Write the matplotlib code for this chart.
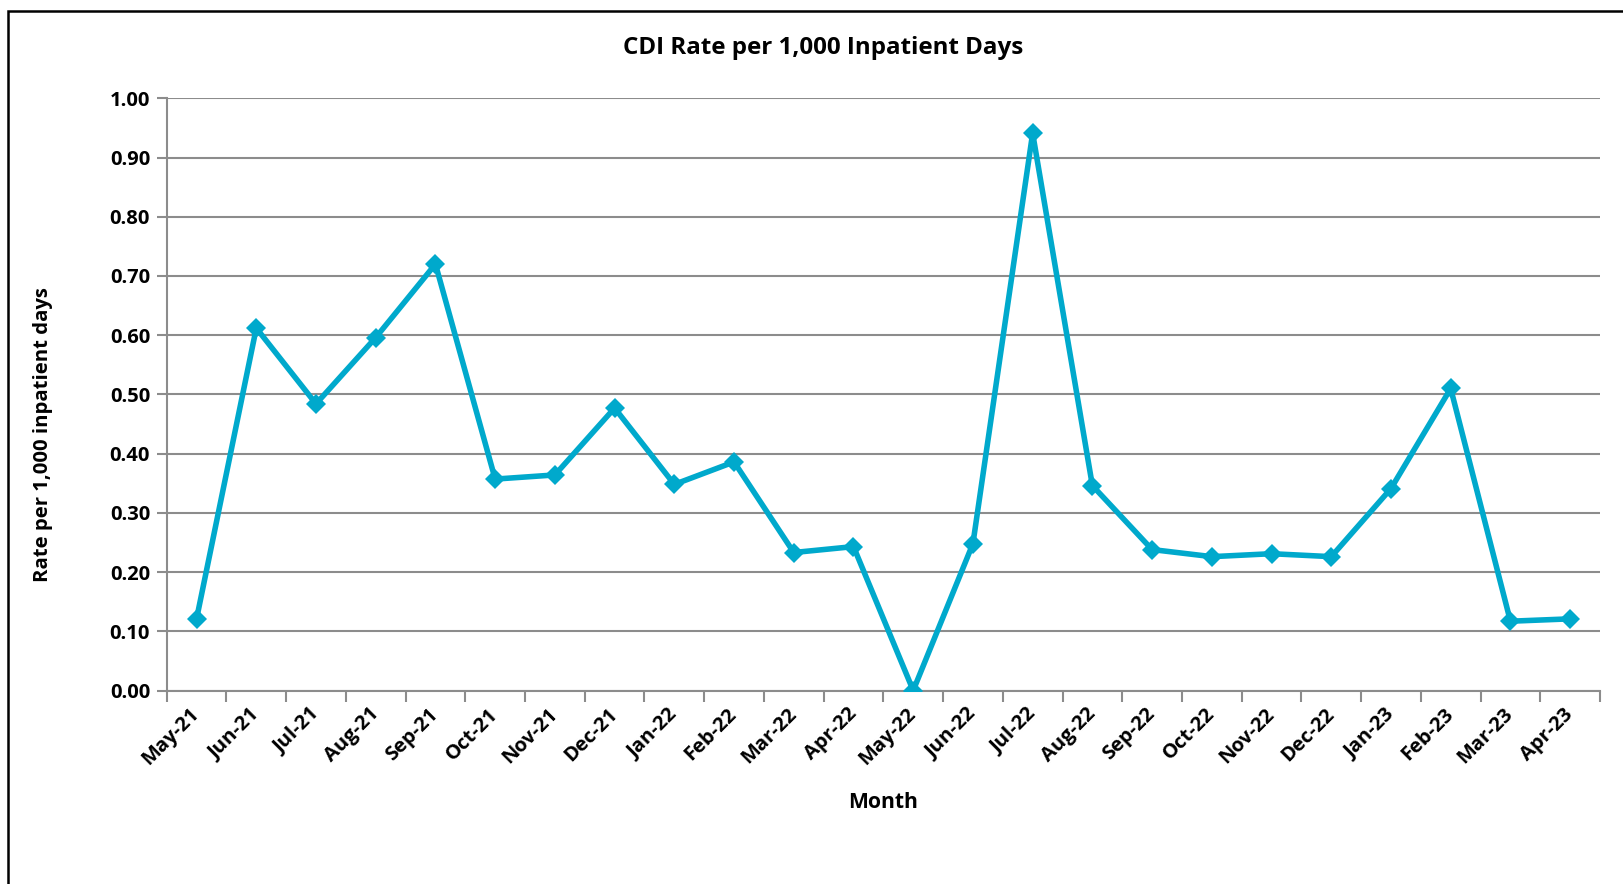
import matplotlib
matplotlib.use("Agg")
import matplotlib.pyplot as plt
from matplotlib.patches import Rectangle
from matplotlib.ticker import FixedLocator, MultipleLocator, FormatStrFormatter

months = ["May-21", "Jun-21", "Jul-21", "Aug-21", "Sep-21", "Oct-21", "Nov-21", "Dec-21",
          "Jan-22", "Feb-22", "Mar-22", "Apr-22", "May-22", "Jun-22", "Jul-22", "Aug-22",
          "Sep-22", "Oct-22", "Nov-22", "Dec-22", "Jan-23", "Feb-23", "Mar-23", "Apr-23"]
rates = [0.121, 0.612, 0.484, 0.596, 0.720, 0.357, 0.364, 0.477,
         0.348, 0.386, 0.233, 0.243, 0.000, 0.248, 0.941, 0.346,
         0.238, 0.226, 0.231, 0.226, 0.341, 0.510, 0.117, 0.121]

plt.rcParams['font.family'] = ['Open Sans', 'DejaVu Sans']
W, H = 1623, 884
fig = plt.figure(figsize=(W / 100, H / 100), dpi=100)
ax = fig.add_axes([166.7 / W, 1 - 690.5 / H, (1600 - 166.7) / W, (690.5 - 98.3) / H])

x = list(range(len(months)))
ax.plot(x, rates, color='#00A9CC', lw=4, marker='D', markersize=10,
        markeredgewidth=0, zorder=3, solid_joinstyle='miter')

ax.set_xlim(-0.5, len(months) - 0.5)
ax.set_ylim(0, 1.0)
ax.yaxis.set_major_locator(MultipleLocator(0.1))
ax.yaxis.set_major_formatter(FormatStrFormatter('%.2f'))
ax.grid(axis='y', color='#8C8C8C', lw=1.5)
ax.set_axisbelow(True)

ax.xaxis.set_major_locator(FixedLocator([i - 0.5 for i in range(len(months) + 1)]))
ax.xaxis.set_major_formatter(plt.NullFormatter())
ax.xaxis.set_minor_locator(FixedLocator(x))
ax.set_xticks(x, minor=True)
ax.set_xticklabels(months, minor=True, rotation=45, ha='right', va='center',
                   rotation_mode='anchor', fontsize=14.5, fontweight='bold')
ax.tick_params(axis='x', which='minor', length=0, pad=15)
ax.tick_params(axis='x', which='major', length=8, width=1.5, color='#8C8C8C', direction='out')
ax.tick_params(axis='y', length=7, width=1.5, color='#8C8C8C', direction='out', pad=5)
for lab in ax.get_yticklabels():
    lab.set_fontweight('bold')
    lab.set_fontsize(14.5)

for s in ['top', 'right']:
    ax.spines[s].set_visible(False)
for s in ['left', 'bottom']:
    ax.spines[s].set_color('#8C8C8C')
    ax.spines[s].set_linewidth(1.5)

fig.text(823 / W, 1 - 47.5 / H, "CDI Rate per 1,000 Inpatient Days", ha='center', va='center',
         fontsize=17.4, fontweight='bold')
fig.text(43 / W, 1 - 435 / H, "Rate per 1,000 inpatient days", ha='center', va='center',
         rotation=90, fontsize=14.6, fontweight='bold')
fig.text(883 / W, 1 - 802 / H, "Month", ha='center', va='center', fontsize=15.2, fontweight='bold')

fig.patches.append(Rectangle((7.5 / W, -0.1), 1.2, 1.1 - 11.5 / H, transform=fig.transFigure,
                             fill=False, edgecolor='black', lw=1.8))

fig.savefig('out.png', dpi=100)
